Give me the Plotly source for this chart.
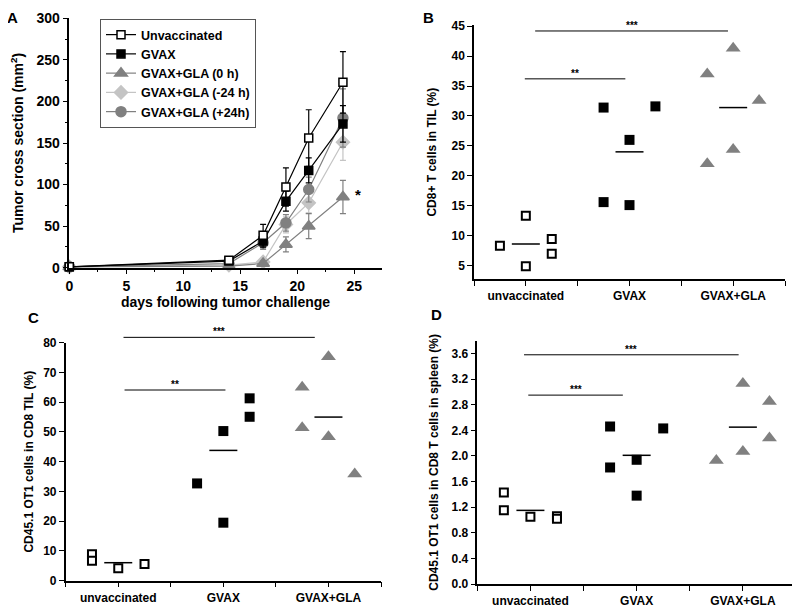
import plotly.graph_objects as go

# ---------------- Panel A data: tumor growth ----------------
days = [0, 14, 17, 19, 21, 24]
unvacc_mean = [1, 9, 39, 97, 156, 223]
unvacc_err = [0, 2, 13, 23, 34, 37]
gvax_mean = [1, 8, 32, 80, 117, 173]
gvax_err = [0, 2, 8, 12, 15, 22]
gla0_mean = [1, 2, 5, 28, 50, 85]
gla0_err = [0, 1, 3, 9, 15, 20]
glam24_mean = [1, 3, 7, 52, 78, 151]
glam24_err = [0, 1, 3, 10, 12, 22]
glap24_mean = [1, 5, 30, 54, 94, 180]
glap24_err = [0, 2, 8, 10, 15, 35]
series_names = ["Unvaccinated", "GVAX", "GVAX+GLA (0 h)", "GVAX+GLA (-24 h)", "GVAX+GLA (+24h)"]
star_day, star_val = 25.3, 88

# ---------------- Panels B-D data ----------------
groups = ["unvaccinated", "GVAX", "GVAX+GLA"]

B_unvacc = [8.3, 13.3, 4.9, 9.45, 6.95]
B_unvacc_off = [-0.25, 0, 0, 0.25, 0.25]
B_gvax = [31.4, 15.6, 26.0, 15.1, 31.6]
B_gvax_off = [-0.25, -0.25, 0, 0, 0.25]
B_gla = [37.0, 22.0, 41.3, 24.4, 32.6]
B_gla_off = [-0.25, -0.25, 0, 0, 0.25]
B_means = [8.6, 24.0, 31.4]
B_sig = [("***", 1.09, 2.95, 44.2), ("**", 0.99, 1.96, 36.2)]

C_unvacc = [8.9, 6.7, 4.2, 5.6]
C_unvacc_off = [-0.25, -0.25, 0, 0.25]
C_gvax = [32.7, 19.5, 50.3, 61.3, 55.1]
C_gvax_off = [-0.25, 0, 0, 0.25, 0.25]
C_gla = [65.0, 51.4, 75.3, 48.4, 35.9]
C_gla_off = [-0.25, -0.25, 0, 0, 0.25]
C_means = [6.05, 43.8, 55.0]
C_sig = [("***", 1.05, 2.87, 81.8), ("**", 1.06, 2.02, 64.1)]

D_unvacc = [1.43, 1.15, 1.05, 1.06, 1.02]
D_unvacc_off = [-0.25, -0.25, 0, 0.25, 0.25]
D_gvax = [2.46, 1.82, 1.94, 1.38, 2.43]
D_gvax_off = [-0.25, -0.25, 0, 0, 0.25]
D_gla = [1.93, 3.13, 2.07, 2.85, 2.28]
D_gla_off = [-0.25, 0, 0, 0.25, 0.25]
D_means = [1.15, 2.01, 2.45]
D_sig = [("***", 0.94, 2.96, 3.58), ("***", 0.98, 1.87, 2.95)]

FONT = "Liberation Sans, Arial, sans-serif"
GRAY = "#808080"
LGRAY = "#c4c4c4"

# page body has an 8px margin: the figure is sized to fill the rest of the window
OFF = 8
W, H = 800 - OFF, 609 - OFF
def fx(px):
    return (px - OFF) / W
def fy(py):
    return 1 - (py - OFF) / H
def xdom(p0, p1):
    return [fx(p0), fx(p1)]
def ydom(p_bottom, p_top):
    return [fy(p_bottom), fy(p_top)]

fig = go.Figure()

# ---------- Panel A ----------
a_styles = [
    (unvacc_mean, unvacc_err, "black", "square", "white", "black", 1),
    (gvax_mean, gvax_err, "black", "square", "black", "black", 2),
    (gla0_mean, gla0_err, GRAY, "triangle-up", GRAY, GRAY, 3),
    (glam24_mean, glam24_err, LGRAY, "diamond", LGRAY, LGRAY, 4),
    (glap24_mean, glap24_err, GRAY, "circle", GRAY, GRAY, 5),
]
draw_order = [3, 2, 4, 1, 0]
for i in draw_order:
    m, e, lc, sym, fc, mlc, rank = a_styles[i]
    size = 8 if sym == "square" else (11 if sym == "triangle-up" else 10)
    fig.add_trace(go.Scatter(
        x=days, y=m, name=series_names[i], mode="lines+markers",
        line=dict(color=lc, width=1.2),
        marker=dict(symbol=sym, size=size, color=fc, line=dict(color=mlc, width=1.5)),
        error_y=dict(type="data", array=e, color=lc, thickness=1.2, width=3),
        cliponaxis=False, legendrank=rank, xaxis="x", yaxis="y",
    ))

# ---------- Panels B-D ----------
def add_dots(vals_list, offs_list, means, xa, ya):
    styles = [
        dict(symbol="square", size=8, color="white", line=dict(color="black", width=2)),
        dict(symbol="square", size=10, color="black", line=dict(color="black", width=0)),
        dict(symbol="triangle-up", size=13, color=GRAY, line=dict(color=GRAY, width=0)),
    ]
    for gi, (vals, offs) in enumerate(zip(vals_list, offs_list)):
        fig.add_trace(go.Scatter(
            x=[gi + 1 + o for o in offs], y=vals, mode="markers",
            marker=styles[gi], showlegend=False, xaxis=xa, yaxis=ya, cliponaxis=False,
        ))
    fig.add_trace(go.Scatter(
        x=[1, 2, 3], y=means, mode="markers", showlegend=False,
        marker=dict(symbol="line-ew", size=20, line=dict(color="black", width=1.5)),
        xaxis=xa, yaxis=ya, cliponaxis=False,
    ))

add_dots([B_unvacc, B_gvax, B_gla], [B_unvacc_off, B_gvax_off, B_gla_off], B_means, "x2", "y2")
add_dots([C_unvacc, C_gvax, C_gla], [C_unvacc_off, C_gvax_off, C_gla_off], C_means, "x3", "y3")
add_dots([D_unvacc, D_gvax, D_gla], [D_unvacc_off, D_gvax_off, D_gla_off], D_means, "x4", "y4")

shapes = []
annotations = []
def add_sig(sigs, xa, ya, yr):
    for label, x0, x1, yv in sigs:
        frac = (yv - yr[0]) / (yr[1] - yr[0])
        shapes.append(dict(type="line", xref=xa, yref=ya + " domain", x0=x0, x1=x1,
                           y0=frac, y1=frac, line=dict(color="black", width=1)))
        annotations.append(dict(text=label, xref=xa, yref=ya + " domain", x=(x0 + x1) / 2,
                                y=frac, yanchor="bottom", showarrow=False, yshift=-2,
                                font=dict(family=FONT, size=10, color="black", weight="bold")))

B_range = [2.7, 45.2]
C_range = [0, 80]
D_range = [0, 3.8]
add_sig(B_sig, "x2", "y2", B_range)
add_sig(C_sig, "x3", "y3", C_range)
add_sig(D_sig, "x4", "y4", D_range)

annotations.append(dict(text="*", x=star_day, y=star_val, xref="x", yref="y", showarrow=False,
                        font=dict(family=FONT, size=15, color="black", weight="bold")))
# panel letters: A and B sit at the very top edge, so anchor them to the top of the figure
for lab, px in [("A", 12), ("B", 428)]:
    annotations.append(dict(text=lab, x=fx(px), y=1, xref="paper", yref="paper",
                            showarrow=False, xanchor="center", yanchor="top", borderpad=0,
                            font=dict(family=FONT, size=15, color="black", weight="bold")))
for lab, px, py in [("C", 33, 317), ("D", 437, 314)]:
    annotations.append(dict(text=lab, x=fx(px), y=fy(py), xref="paper", yref="paper",
                            showarrow=False, xanchor="center", yanchor="middle",
                            font=dict(family=FONT, size=15, color="black", weight="bold")))

def lin_axis(domain, rng, dtick, size, title=None, tsize=12, standoff=10, fmt=None, minor=None):
    d = dict(domain=domain, range=rng, dtick=dtick, tick0=0, showline=True, linecolor="black",
             linewidth=1.5, ticks="outside", ticklen=5, tickwidth=1.2, tickcolor="black",
             showgrid=False, zeroline=False, mirror=False, automargin=False,
             tickfont=dict(family=FONT, size=size, color="black", weight="bold"))
    if title:
        d["title"] = dict(text=title, standoff=standoff,
                          font=dict(family=FONT, size=tsize, color="black", weight="bold"))
    if fmt:
        d["tickformat"] = fmt
    if minor:
        d["minor"] = dict(dtick=minor, ticks="outside", ticklen=3, tickcolor="black", tickwidth=1,
                          showgrid=False)
    return d

def cat_axis(domain, size=12):
    return dict(domain=domain, range=[0.5, 3.5], tickvals=[0.5, 1, 1.5, 2, 2.5, 3, 3.5],
                ticktext=["", groups[0], "", groups[1], "", groups[2], ""],
                showline=True, linecolor="black", linewidth=1.5, ticks="outside", ticklen=5,
                tickwidth=1.2, tickcolor="black", showgrid=False, zeroline=False, automargin=False,
                tickfont=dict(family=FONT, size=size, color="black", weight="bold"))

layout = dict(
    template="none",
    width=W, height=H, margin=dict(l=0, r=0, t=0, b=0, pad=0), autosize=False,
    paper_bgcolor="white", plot_bgcolor="white",
    font=dict(family=FONT, color="black"),
    xaxis=lin_axis(xdom(69.3, 381.7), [0, 27.4], 5, 14, "days following tumor challenge", 14, 4, minor=2.5),
    yaxis=lin_axis(ydom(267.7, 18.3), [0, 300], 50, 14, "Tumor cross section (mm<sup>2</sup>)", 14, 13, minor=25),
    xaxis2=cat_axis(xdom(474, 785)),
    yaxis2=lin_axis(ydom(279.3, 25), B_range, 5, 12, "CD8+ T cells in TIL (%)", 12, 12),
    xaxis3=cat_axis(xdom(65.7, 381)),
    yaxis3=lin_axis(ydom(580.7, 342.7), C_range, 10, 12, "CD45.1 OT1 cells in CD8 TIL (%)", 12, 7),
    xaxis4=cat_axis(xdom(477.3, 796)),
    yaxis4=lin_axis(ydom(584, 340.7), D_range, 0.4, 12, "CD45.1 OT1 cells in CD8 T cells in spleen (%)", 12, 10, fmt=".1f"),
    legend=dict(x=fx(100), y=fy(19), xanchor="left", yanchor="top",
                bordercolor="#555555", borderwidth=1, bgcolor="white", tracegroupgap=0,
                font=dict(family=FONT, size=12.5, color="black", weight="bold")),
    shapes=shapes, annotations=annotations, showlegend=True,
)
layout["xaxis2"]["anchor"] = "y2"
layout["yaxis2"]["anchor"] = "x2"
layout["xaxis3"]["anchor"] = "y3"
layout["yaxis3"]["anchor"] = "x3"
layout["xaxis4"]["anchor"] = "y4"
layout["yaxis4"]["anchor"] = "x4"
fig.update_layout(**layout)

fig.write_html("out.html")
